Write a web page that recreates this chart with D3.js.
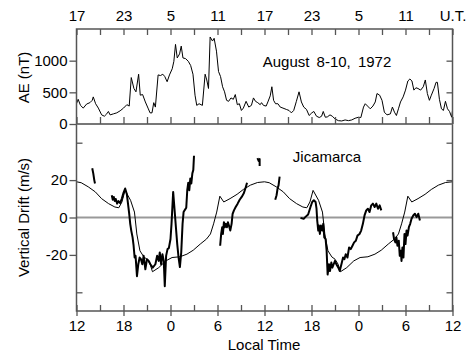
<!DOCTYPE html>
<html>
<head>
<meta charset="utf-8">
<script src="https://cdn.jsdelivr.net/npm/d3@7"></script>
<style>
  body { margin: 0; background: #fff; }
  svg { display: block; font-family: "Liberation Sans", Arial, Helvetica, sans-serif; }
</style>
</head>
<body>
<svg id="chart" width="473" height="357"></svg>
<script>
// hours since 12 LT on Aug 8 (0..48); UT = LT + 5
const ltLabels = ['12', '18', '0', '6', '12', '18', '0', '6', '12'];
const utLabels = ['17', '23', '5', '11', '17', '23', '5', '11', 'U.T.'];
const aeTicks = [0, 500, 1000];
const driftTicks = [-20, 0, 20];

// AE index (nT), [hour, value]
const aeSeries = [
  [0, 320], [0.21, 390], [0.51, 294], [0.86, 251], [1.29, 315], [1.71, 337], [2.01, 374], [2.14, 428],
  [2.44, 320], [2.79, 251], [3.21, 144], [3.56, 123], [3.86, 160], [4.07, 198], [4.29, 144], [4.71, 160],
  [5.14, 176], [5.57, 208], [6.0, 251], [6.43, 305], [6.73, 283], [6.99, 733], [7.33, 561], [7.59, 508],
  [7.93, 786], [8.14, 455], [8.44, 465], [8.79, 348], [9.13, 251], [9.39, 176], [9.64, 176], [9.86, 337],
  [10.07, 267], [10.42, 775], [10.72, 765], [11.02, 786], [11.27, 749], [11.57, 668], [11.87, 775], [12.22, 872],
  [12.43, 990], [12.64, 1257], [12.86, 1043], [13.16, 1107], [13.37, 1230], [13.59, 1043], [13.93, 1032], [14.27, 990],
  [14.57, 925], [14.87, 786], [15.13, 455], [15.35, 294], [15.65, 320], [16.07, 294], [16.42, 786], [16.63, 695],
  [16.85, 561], [17.06, 1374], [17.36, 1310], [17.57, 1353], [17.87, 1150], [18.13, 829], [18.39, 749], [18.65, 588],
  [18.9, 508], [19.16, 374], [19.42, 358], [19.72, 412], [20.02, 390], [20.27, 465], [20.53, 305], [20.79, 320],
  [21.05, 214], [21.3, 251], [21.65, 358], [21.99, 267], [22.33, 294], [22.59, 412], [22.85, 358], [23.14, 337],
  [23.45, 305], [23.62, 337], [23.87, 294], [24.21, 283], [24.43, 348], [24.73, 444], [24.94, 588], [25.16, 374],
  [25.41, 320], [25.71, 320], [26.01, 267], [26.36, 251], [26.79, 230], [27.13, 214], [27.43, 176], [27.73, 214],
  [28.07, 358], [28.41, 508], [28.71, 348], [29.01, 267], [29.36, 230], [29.7, 134], [30.04, 176], [30.3, 198],
  [30.64, 123], [30.99, 102], [31.29, 123], [31.5, 198], [31.76, 107], [32.02, 112], [32.36, 144], [32.66, 123],
  [33.0, 80], [33.43, 53], [33.86, 48], [34.29, 64], [34.72, 53], [35.14, 64], [35.57, 91], [36.0, 107],
  [36.3, 102], [36.64, 267], [36.86, 320], [37.16, 283], [37.5, 240], [37.84, 283], [38.14, 348], [38.36, 481],
  [38.7, 455], [39.0, 374], [39.3, 187], [39.64, 144], [40.07, 160], [40.33, 267], [40.59, 187], [40.84, 134],
  [41.1, 240], [41.36, 348], [41.7, 428], [42.0, 535], [42.3, 679], [42.56, 711], [42.82, 679], [43.07, 535],
  [43.33, 572], [43.59, 561], [43.93, 535], [44.27, 588], [44.53, 695], [44.79, 481], [45.05, 374], [45.3, 455],
  [45.65, 561], [45.9, 658], [46.07, 658], [46.33, 390], [46.59, 240], [46.84, 214], [47.1, 358], [47.36, 240],
  [47.62, 198], [47.9, 107], [48, 214]
];

// average drift curve for one day (hours after 12 LT), repeated for both days
const modelHours = [0, 0.6, 1.5, 2.4, 3.2, 4.1, 4.9, 5.4, 5.8, 6.2, 6.9, 7.4, 7.7, 8.1, 8.6, 9.0, 9.4, 9.7,
  10.5, 11.4, 12.2, 13.2, 14.1, 14.9, 15.8, 16.6, 17.1, 17.5, 17.9, 18.3, 18.8, 19.6, 20.5, 21.3, 22.2, 23.1, 24];
const modelDrift = [19.1, 18.6, 16.4, 13.7, 10.1, 7.4, 5.6, 5.2, 8.3, 14.5, 9.2, 2.9, -8.8, -17.8, -21.1, -22.3, -25, -29,
  -26.8, -23.2, -21.4, -21, -19.6, -17.5, -14.2, -11.5, -8.8, -3.4, 2.9, 11.4, 8.3, 10.1, 12.4, 15, 17.3, 18.7, 19.1];

// measured Jicamarca drifts (m/s), [hour, value], one array per data run
const driftRunA = [[2.01, 26.3], [2.14, 23.6], [2.27, 20], [2.36, 18.2]];
const driftRunB = [
  [4.5, 11.9], [4.63, 9.5], [4.76, 11], [4.89, 8.8], [5.01, 9.9], [5.19, 7.4], [5.36, 8.8], [5.57, 7.7],
  [5.79, 10.1], [6.0, 13.2], [6.21, 15.5], [6.43, 12.4], [6.6, 6.5], [6.73, 2], [6.86, -3.4], [6.99, -7],
  [7.16, -10.6], [7.29, -15.1], [7.42, -21.4], [7.54, -20.5], [7.72, -31.4], [7.89, -25], [8.06, -21.4], [8.23, -22.3],
  [8.4, -25], [8.57, -20.5], [8.79, -27.7], [9.0, -22.3], [9.22, -23.2], [9.43, -25], [9.73, -26.8], [10.07, -25],
  [10.29, -20.5], [10.5, -23.2], [10.63, -18.7], [10.8, -25], [10.97, -19.6], [11.14, -23.2], [11.27, -36.8], [11.44, -20.5],
  [11.62, -16.9], [11.79, -16.4], [12.0, -11.5], [12.13, -3.4], [12.34, 13.7], [12.51, 4.7], [12.69, -5.2], [12.86, -14.2],
  [13.03, -21.4], [13.2, -26.5], [13.37, -18.7], [13.54, -3.4], [13.67, 2.9], [13.84, 4.1], [14.01, 5.2], [14.14, 14.6],
  [14.27, 18.6], [14.4, 14.6], [14.53, 20.9], [14.66, 18.2], [14.79, 23.6], [14.91, 25.4], [15.0, 33]
];
const driftRunC = [
  [18.34, -15.1], [18.47, -8.8], [18.6, -5.2], [18.69, -8.8], [18.82, -2.5], [18.94, -5.2], [19.07, -3.4], [19.2, -5.2],
  [19.33, -2.5], [19.46, -4.3], [19.63, -7], [19.8, -3.4], [19.93, 2], [20.1, 3.8], [20.32, 5.6], [20.57, 7.4],
  [20.83, 9.5], [21.09, 11], [21.34, 12.8], [21.56, 15.5], [21.77, 18.6]
];
const driftRunD = [[23.1, 31.8], [23.25, 30.3], [23.38, 31.2], [23.38, 27.5]];
const driftRunE = [[25.37, 9.5], [25.54, 11.9], [25.67, 15.5], [25.8, 17.3], [25.93, 21.8]];
const driftRunF = [
  [28.59, -0.2], [29.0, -0.7], [29.2, 0.2], [29.57, 1.6], [29.87, 5.6], [30.09, 8.3], [30.3, 9.2], [30.52, 8.3],
  [30.64, 4.7], [30.73, -1.6], [30.86, -7], [30.94, -4.3], [31.07, -8.8], [31.2, -4.3], [31.37, -7], [31.5, -3.4],
  [31.63, -10.6], [31.8, -11.5], [31.93, -17.8], [32.06, -30.5], [32.23, -25], [32.36, -28.6], [32.53, -24.1], [32.66, -26.8],
  [32.83, -25], [33.0, -23.2], [33.17, -25], [33.43, -26.8], [33.6, -28.6], [33.82, -25], [34.03, -21.4], [34.2, -22.3],
  [34.37, -19.6], [34.59, -21.4], [34.8, -16], [35.01, -16.9], [35.23, -15.1], [35.44, -13.3], [35.66, -12.4], [35.87, -9.7],
  [36.13, -8.8], [36.34, -7], [36.56, -3.4], [36.77, 1.1], [36.99, 3.8], [37.2, 4.7], [37.41, 2.9], [37.63, 6.5],
  [37.84, 7.4], [38.06, 5.6], [38.27, 7.4], [38.49, 4.7], [38.7, 6.5], [38.91, 3.8]
];
const driftRunG = [
  [40.41, -7.9], [40.54, -11.5], [40.71, -13.3], [40.84, -10.6], [40.97, -15.1], [41.14, -12.4], [41.27, -20.5], [41.4, -17.8],
  [41.49, -23.2], [41.61, -16], [41.74, -21.4], [41.87, -8.8], [42.0, -14.2], [42.13, -7], [42.26, -9.7], [42.43, -5.2],
  [42.6, -3.4], [42.77, -0.7], [42.99, 1.1], [43.2, 2], [43.42, 0.2], [43.63, 2], [43.84, -1.6]
];
const driftRuns = [driftRunA, driftRunB, driftRunC, driftRunD, driftRunE, driftRunF, driftRunG];

const svg = d3.select('#chart');
const frameColor = '#555';

const x = d3.scaleLinear().domain([0, 48]).range([76.5, 452.5]);
const yAE = d3.scaleLinear().domain([0, 1500]).range([124, 29]);
const yV = d3.scaleLinear().domain([-50, 50]).range([311, 124]);

const hours3 = d3.range(0, 49, 3);
const hours6 = d3.range(0, 49, 6);

function styleAxis(g) {
  g.select('.domain').remove();
  g.selectAll('.tick line').attr('stroke', frameColor).attr('stroke-width', 1.3);
  g.selectAll('.tick text').attr('fill', '#000').style('font-size', '15px')
    .style('font-family', '"Liberation Sans", Arial, sans-serif');
}

// zero line of the drift panel
svg.append('line')
  .attr('x1', x(0)).attr('x2', x(48))
  .attr('y1', yV(0)).attr('y2', yV(0))
  .attr('stroke', '#999').attr('stroke-width', 2);

// AE curve
svg.append('path')
  .datum(aeSeries)
  .attr('fill', 'none')
  .attr('stroke', '#000')
  .attr('stroke-width', 1)
  .attr('d', d3.line().x(d => x(d[0])).y(d => yAE(d[1])));

// model curve, both days
const driftLine = d3.line().x(d => x(d[0])).y(d => yV(d[1]));
[0, 24].forEach(offset => {
  svg.append('path')
    .datum(modelHours.map((h, i) => [h + offset, modelDrift[i]]))
    .attr('fill', 'none')
    .attr('stroke', '#000')
    .attr('stroke-width', 1)
    .attr('d', driftLine);
});

// measured drifts
svg.selectAll('path.run')
  .data(driftRuns)
  .enter()
  .append('path')
  .attr('class', 'run')
  .attr('fill', 'none')
  .attr('stroke', '#000')
  .attr('stroke-width', 2)
  .attr('stroke-linejoin', 'round')
  .attr('d', driftLine);

// frames
svg.append('rect')
  .attr('x', x(0)).attr('y', yAE(1500))
  .attr('width', x(48) - x(0)).attr('height', yV(-50) - yAE(1500))
  .attr('fill', 'none').attr('stroke', frameColor).attr('stroke-width', 1.5);
svg.append('line')
  .attr('x1', x(0)).attr('x2', x(48))
  .attr('y1', yAE(0)).attr('y2', yAE(0))
  .attr('stroke', '#777').attr('stroke-width', 1.8);

// top UT axis
svg.append('g')
  .attr('transform', `translate(0,${yAE(1500)})`)
  .call(d3.axisTop(x).tickValues(hours3).tickSize(-6).tickPadding(8)
    .tickFormat(d => d % 6 === 0 ? utLabels[d / 6] : ''))
  .call(styleAxis);

// ticks on panel boundary
svg.append('g')
  .attr('transform', `translate(0,${yAE(0)})`)
  .call(d3.axisBottom(x).tickValues(hours3).tickSize(-7).tickFormat(''))
  .call(styleAxis);

// bottom LT axis
svg.append('g')
  .attr('transform', `translate(0,${yV(-50)})`)
  .call(d3.axisBottom(x).tickValues(hours3).tickSize(-6).tickPadding(9)
    .tickFormat(d => d % 6 === 0 ? ltLabels[d / 6] : ''))
  .call(styleAxis);
svg.append('g')
  .attr('transform', `translate(0,${yV(-50)})`)
  .call(d3.axisBottom(x).tickValues(hours6).tickSize(5).tickFormat(''))
  .call(styleAxis);

// left axes
svg.append('g')
  .attr('transform', `translate(${x(0)},0)`)
  .call(d3.axisLeft(yAE).tickValues(aeTicks).tickSize(7).tickPadding(2).tickFormat(d => String(d)))
  .call(styleAxis);
svg.append('g')
  .attr('transform', `translate(${x(0)},0)`)
  .call(d3.axisLeft(yV).tickValues(driftTicks).tickSize(7).tickPadding(2).tickFormat(d => String(d)))
  .call(styleAxis);
svg.append('g')
  .attr('transform', `translate(${x(0)},0)`)
  .call(d3.axisLeft(yV).tickValues([-40, 40]).tickSize(-6).tickFormat(''))
  .call(styleAxis);

// right axes
svg.append('g')
  .attr('transform', `translate(${x(48)},0)`)
  .call(d3.axisRight(yAE).tickValues([500, 1000]).tickSize(-6).tickFormat(''))
  .call(styleAxis);
svg.append('g')
  .attr('transform', `translate(${x(48)},0)`)
  .call(d3.axisRight(yV).tickValues([-40, -20, 20, 40]).tickSize(-6).tickFormat(''))
  .call(styleAxis);

// titles and annotations
svg.append('text')
  .attr('transform', 'translate(29,77.5) rotate(-90)')
  .attr('text-anchor', 'middle')
  .style('font-size', '15px')
  .text('AE (nT)');
svg.append('text')
  .attr('transform', `translate(29,${yV(0)}) rotate(-90)`)
  .attr('text-anchor', 'middle')
  .style('font-size', '15px')
  .text('Vertical Drift (m/s)');
svg.append('text')
  .attr('x', 264).attr('y', 350)
  .attr('text-anchor', 'middle')
  .style('font-size', '15px')
  .text('Local Time');
svg.append('text')
  .attr('x', 327).attr('y', 66.5)
  .attr('text-anchor', 'middle')
  .style('font-size', '15px')
  .style('word-spacing', '3px')
  .text('August 8-10, 1972');
svg.append('text')
  .attr('x', 327).attr('y', 161.5)
  .attr('text-anchor', 'middle')
  .style('font-size', '15px')
  .text('Jicamarca');
</script>
</body>
</html>
